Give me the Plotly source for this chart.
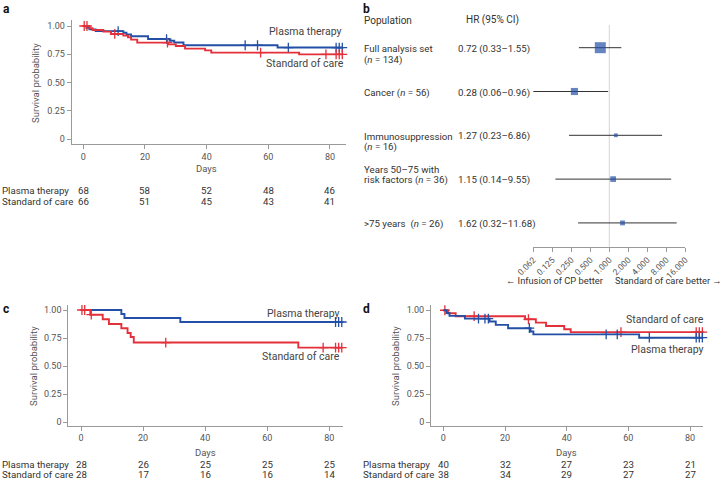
import numpy as np
import plotly.graph_objects as go

W, H = 722, 488
RED = "#e3303a"
BLUE = "#2350a6"
TXT = "#333333"
TICK = "#555555"
AX = "#9a9a9a"
FONT = "Roboto"

# ---------------- data ----------------
risk_days = [0, 20, 40, 60, 80]

# Panel a (full analysis set)
a_pt_times = [0, 1, 2, 4, 13, 14, 15.5, 21, 28, 29.5, 32.5, 63]
a_pt_surv = [1.0, 0.985, 0.97, 0.955, 0.94, 0.925, 0.91, 0.885, 0.87, 0.855, 0.83, 0.81]
a_pt_censor = [11.3, 27, 52.5, 56.5, 66.5, 82, 83, 84]
a_soc_times = [0, 2, 3, 6.5, 9, 13, 14.5, 15.5, 17.5, 27.5, 30, 33, 39.5, 41.5, 70]
a_soc_surv = [1.0, 0.98, 0.965, 0.95, 0.93, 0.915, 0.9, 0.88, 0.853, 0.838, 0.823, 0.80, 0.785, 0.765, 0.75]
a_soc_censor = [0.3, 1.2, 10.2, 27.3, 57.5, 78.7, 82, 83, 84]
a_risk_pt = [68, 58, 52, 48, 46]
a_risk_soc = [66, 51, 45, 43, 41]

# Panel c (cancer)
c_pt_times = [0, 13, 14, 32]
c_pt_surv = [1.0, 0.964, 0.929, 0.893]
c_pt_censor = [82, 83, 84]
c_soc_times = [0, 3, 7, 9, 13, 15, 16, 17, 70]
c_soc_surv = [1.0, 0.958, 0.917, 0.875, 0.837, 0.795, 0.76, 0.71, 0.665]
c_soc_censor = [0.3, 1.2, 3.3, 27.3, 78, 82, 83, 84]
c_risk_pt = [28, 26, 25, 25, 25]
c_risk_soc = [28, 17, 16, 16, 14]

# Panel d (no cancer)
d_pt_times = [0, 1, 2, 7, 15, 17, 21, 28.3, 29.2, 63.5]
d_pt_surv = [1.0, 0.975, 0.95, 0.925, 0.90, 0.87, 0.84, 0.81, 0.785, 0.755]
d_pt_censor = [11.4, 13.5, 14.6, 27.9, 52.8, 56.4, 66.8, 82, 83, 84]
d_soc_times = [0, 1.5, 4, 26.5, 30, 33.3, 39.2, 41.3]
d_soc_surv = [1.0, 0.974, 0.947, 0.92, 0.89, 0.86, 0.83, 0.805]
d_soc_censor = [0.5, 10, 27.6, 57.6, 82, 83, 84]
d_risk_pt = [40, 32, 27, 23, 21]
d_risk_soc = [38, 34, 29, 27, 27]

# Panel b (forest plot)
fp_names = ["Full analysis set", "Cancer", "Immunosuppression", "Years 50–75 with risk factors", ">75 years"]
fp_n = [134, 56, 16, 36, 26]
fp_hr = [0.72, 0.28, 1.27, 1.15, 1.62]
fp_lo = [0.33, 0.06, 0.23, 0.14, 0.32]
fp_hi = [1.55, 0.96, 6.86, 9.55, 11.68]
fp_ticks = [0.0625, 0.125, 0.25, 0.5, 1, 2, 4, 8, 16]
fp_ticktext = ["0.062", "0.125", "0.250", "0.500", "1.000", "2.000", "4.000", "8.000", "16.000"]

# ---------------- helpers ----------------
def px(x):
    return x / W

def py(y):
    return 1 - y / H

def step_at(times, surv, t):
    idx = np.searchsorted(np.array(times), np.array(t), side="right") - 1
    return np.array(surv)[idx]

fig = go.Figure()

def km(times, surv, censor, color, xa, ya):
    end = max(censor[-1], times[-1])
    fig.add_trace(go.Scatter(x=list(times) + [end], y=list(surv) + [surv[-1]], mode="lines",
                             line=dict(color=color, width=1.9, shape="hv"), xaxis=xa, yaxis=ya,
                             hoverinfo="skip", showlegend=False, cliponaxis=False))
    fig.add_trace(go.Scatter(x=censor, y=step_at(times, surv, censor), mode="markers",
                             marker=dict(symbol="cross-thin", size=7, color=color,
                                         line=dict(color=color, width=1.3)),
                             xaxis=xa, yaxis=ya, hoverinfo="skip", showlegend=False, cliponaxis=False))

km(a_pt_times, a_pt_surv, a_pt_censor, BLUE, "x", "y")
km(a_soc_times, a_soc_surv, a_soc_censor, RED, "x", "y")
km(c_pt_times, c_pt_surv, c_pt_censor, BLUE, "x2", "y2")
km(c_soc_times, c_soc_surv, c_soc_censor, RED, "x2", "y2")
km(d_soc_times, d_soc_surv, d_soc_censor, RED, "x3", "y3")
km(d_pt_times, d_pt_surv, d_pt_censor, BLUE, "x3", "y3")

# forest
rows = list(range(len(fp_hr) - 1, -1, -1))  # top row highest
fig.add_trace(go.Scatter(
    x=fp_hr, y=rows, mode="markers", xaxis="x4", yaxis="y4",
    marker=dict(symbol="square", size=[np.sqrt(n) * 0.95 for n in fp_n], color=BLUE,
                line=dict(width=0)),
    error_x=dict(type="data", symmetric=False,
                 array=[h - m for h, m in zip(fp_hi, fp_hr)],
                 arrayminus=[m - l for m, l in zip(fp_hr, fp_lo)],
                 color="#333333", thickness=1, width=0),
    hoverinfo="skip", showlegend=False, cliponaxis=False))

tickfont = dict(family=FONT, size=9, color=TICK)

def km_axes(xd, yd, xr, yr, anchor_x, anchor_y):
    xa = dict(domain=xd, range=xr, anchor=anchor_y, showline=True, linecolor=AX, linewidth=1,
              ticks="outside", ticklen=4, tickcolor=AX, tickvals=risk_days, tickfont=tickfont,
              showgrid=False, zeroline=False, automargin=False)
    ya = dict(domain=yd, range=yr, anchor=anchor_x, showline=True, linecolor=AX, linewidth=1,
              ticks="outside", ticklen=4, tickcolor=AX, tickvals=[0, 0.25, 0.5, 0.75, 1],
              ticktext=["0", "0.25", "0.50", "0.75", "1.00"], tickfont=tickfont,
              showgrid=False, zeroline=False, automargin=False)
    return xa, ya

xa1, ya1 = km_axes([px(71.7), px(346)], [py(144), py(20)], [-3.76, 85.2], [-0.0415, 1.053], "x", "y")
xa2, ya2 = km_axes([px(68.3), px(343)], [py(425.5), py(305)], [-4.09, 84.4], [-0.0285, 1.0445], "x2", "y2")
xa3, ya3 = km_axes([px(431), px(703.3)], [py(425.5), py(305)], [-4.0, 84.3], [-0.0286, 1.047], "x3", "y3")

fig.update_layout(
    width=W, height=H, autosize=False,
    margin=dict(l=0, r=0, t=0, b=0, pad=0, autoexpand=False),
    paper_bgcolor="white", plot_bgcolor="white",
    showlegend=False,
    font=dict(family=FONT, size=10, color=TXT),
    xaxis=xa1, yaxis=ya1, xaxis2=xa2, yaxis2=ya2, xaxis3=xa3, yaxis3=ya3,
    xaxis4=dict(domain=[px(533.3), px(685.3)], type="log",
                range=[np.log10(fp_ticks[0]), np.log10(fp_ticks[-1])], anchor="y4",
                showline=True, linecolor=AX, linewidth=1, ticks="outside", ticklen=4, tickcolor=AX,
                tickvals=fp_ticks, ticktext=fp_ticktext, tickangle=-45,
                tickfont=dict(family=FONT, size=8.5, color=TICK),
                showgrid=False, zeroline=False, automargin=False),
    yaxis4=dict(domain=[py(246.7), py(25)], range=[-0.543, 4.518], anchor="x4",
                visible=False, showgrid=False, zeroline=False, automargin=False),
    shapes=[dict(type="line", xref="x4", yref="y4 domain", x0=1, x1=1, y0=0, y1=1,
                 line=dict(color="#d4d4d4", width=1), layer="below")],
)

ann = []

def text(x, y, s, xanchor="left", size=10, color=TXT, **kw):
    ann.append(dict(x=px(x), y=py(y), xref="paper", yref="paper", text=s, showarrow=False,
                    xanchor=xanchor, yanchor="middle", font=dict(family=FONT, size=size, color=color), **kw))

# panel letters
for L, x, y in [("a", 1, 0), ("b", 361, 0), ("c", 1, 300), ("d", 361, 300)]:
    ann.append(dict(x=px(x), y=py(y), xref="paper", yref="paper", text="<b>%s</b>" % L,
                    showarrow=False, xanchor="left", yanchor="top",
                    font=dict(family=FONT, size=12, color="#111")))

# KM panel texts
text(344, 32, "Plasma therapy", "right", 10.5, "#444")
text(346, 63.3, "Standard of care", "right", 10.5, "#444")
text(342, 313.3, "Plasma therapy", "right", 10.5, "#444")
text(342, 356, "Standard of care", "right", 10.5, "#444")
text(706, 319.3, "Standard of care", "right", 10.5, "#444")
text(706, 349, "Plasma therapy", "right", 10.5, "#444")

text(35, 83, "Survival probability", "center", 9.5, TICK, textangle=-90)
text(33, 366, "Survival probability", "center", 9.5, TICK, textangle=-90)
text(395, 366, "Survival probability", "center", 9.5, TICK, textangle=-90)

text(206.7, 168.3, "Days", "center", 9.5, TICK)
text(205, 452.3, "Days", "center", 9.5, TICK)
text(566.7, 452.3, "Days", "center", 9.5, TICK)

def risk(xref, x0, y1, y2, pt, soc):
    text(x0, y1, "Plasma therapy", "left", 9.7)
    text(x0, y2, "Standard of care", "left", 9.7)
    for d, a, b in zip(risk_days, pt, soc):
        for yy, v in [(y1, a), (y2, b)]:
            ann.append(dict(x=d, y=py(yy), xref=xref, yref="paper", text=str(v), showarrow=False,
                            xanchor="center", yanchor="middle",
                            font=dict(family=FONT, size=9.7, color=TXT)))

risk("x", 0, 190, 201.7, a_risk_pt, a_risk_soc)
risk("x2", 0, 464.3, 474.5, c_risk_pt, c_risk_soc)
risk("x3", 361, 464.3, 474.5, d_risk_pt, d_risk_soc)

# forest texts
text(362, 20, "Population", "left", 10)
text(464, 20, "HR (95% CI)", "left", 10)

def pop_lines(name, n):
    lab = "(<i>n</i> = %d)" % n
    if name == "Full analysis set" or name == "Immunosuppression":
        return [name, lab], 0
    if name.startswith("Years"):
        return ["Years 50–75 with", "risk factors " + lab], 1
    if name.startswith(">75"):
        return [name + "\u00a0 " + lab], 0
    return [name + " " + lab], 0

LS = 11
for name, n, r, h, l, u in zip(fp_names, fp_n, rows, fp_hr, fp_lo, fp_hi):
    lines, k = pop_lines(name, n)
    for j, s in enumerate(lines):
        ann.append(dict(x=px(362), y=r, xref="paper", yref="y4", text=s, showarrow=False,
                        xanchor="left", yanchor="middle", yshift=(k - j) * LS - 1,
                        font=dict(family=FONT, size=9.7, color=TXT)))
    ann.append(dict(x=px(456), y=r, xref="paper", yref="y4",
                    text="%.2f (%.2f–%.2f)" % (h, l, u), showarrow=False,
                    xanchor="left", yanchor="middle", yshift=-1,
                    font=dict(family=FONT, size=9.7, color=TXT)))

text(606, 280, "← Infusion of CP better", "right", 9.3)
text(613, 280, "Standard of care better →", "left", 9.3)

fig.update_layout(annotations=ann)
fig.write_html("out.html", config={"displayModeBar": False},
               post_script="document.body.style.margin='0px';document.body.style.padding='0px';")
